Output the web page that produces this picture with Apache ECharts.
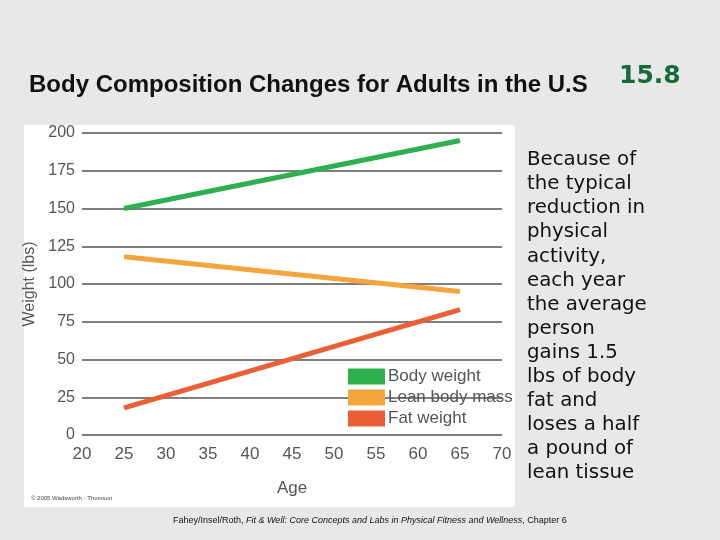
<!DOCTYPE html>
<html><head><meta charset="utf-8">
<script src="https://cdn.jsdelivr.net/npm/echarts@6/dist/echarts.min.js"></script>
<style>html,body{margin:0;padding:0;background:#e8e8e8;}#c{width:720px;height:540px;}</style>
</head><body><div id="c"></div>
<script>
const ages = [25, 65];
const bodyWeight = [150, 195];
const leanMass = [118, 95];
const fatWeight = [18, 83];
const xTicks = [20, 25, 30, 35, 40, 45, 50, 55, 60, 65, 70];
const sideText = ["Because of","the typical","reduction in","physical","activity,","each year","the average","person","gains 1.5","lbs of body","fat and","loses a half","a pound of","lean tissue"];

const chart = echarts.init(document.getElementById('c'));
const pair = (xs, ys) => xs.map((x, i) => [x, ys[i]]);
const lbl = {fontFamily:'Liberation Sans', fontSize:16, color:'#555'};
chart.setOption({
  backgroundColor:'#e8e8e8',
  animation:false,
  graphic:[
    {type:'rect', z:-10, shape:{x:24,y:125,width:491,height:382}, style:{fill:'#ffffff'}},
    {type:'text', left:29, top:73, style:{text:'Body Composition Changes for Adults in the U.S', font:'bold 24px "Liberation Sans"', fill:'#111'}},
    {type:'text', left:619, top:64, style:{text:'15.8', font:'bold 25px "DejaVu Sans"', fill:'#146b3a'}},
    {type:'text', left:527, top:148, style:{text:sideText.join('\n'), font:'19.8px "DejaVu Sans"', lineHeight:24.1, fill:'#111'}},
    {type:'text', left:31, top:495, style:{text:'© 2005 Wadsworth - Thomson', font:'6px "Liberation Sans"', fill:'#444'}},
    {type:'text', left:173, top:516, style:{
      text:'{n|Fahey/Insel/Roth, }{i|Fit & Well: Core Concepts and Labs in Physical Fitness and Wellness}{n|, Chapter 6}',
      rich:{n:{font:'9px "Liberation Sans"', fill:'#111'}, i:{font:'italic 9px "Liberation Sans"', fill:'#111'}}}}
  ],
  grid:{left:82, right:218, top:133, bottom:105},
  legend:{orient:'vertical', left:343, top:363, itemWidth:37, itemHeight:16, itemGap:4, icon:'rect',
    textStyle:{fontFamily:'Liberation Sans', fontSize:17, color:'#555', padding:[0,0,0,-2]},
    data:['Body weight','Lean body mass','Fat weight']},
  xAxis:{type:'value', min:20, max:70, interval:5, name:'Age', nameLocation:'middle', nameGap:45,
    nameTextStyle:{fontFamily:'Liberation Sans', fontSize:17, color:'#555'},
    axisLine:{show:false}, axisTick:{show:false}, splitLine:{show:false},
    axisLabel:Object.assign({margin:11}, lbl, {fontSize:17})},
  yAxis:{type:'value', min:0, max:200, interval:25, name:'Weight (lbs)', nameLocation:'middle', nameGap:40,
    nameTextStyle:{fontFamily:'Liberation Sans', fontSize:16, color:'#555'},
    axisLine:{show:false}, axisTick:{show:false},
    splitLine:{lineStyle:{color:'#555', width:1.5}},
    axisLabel:Object.assign({margin:7}, lbl)},
  series:[
    {name:'Body weight', type:'line', data:pair(ages, bodyWeight), symbol:'none', color:'#2fb050', lineStyle:{width:5}},
    {name:'Lean body mass', type:'line', data:pair(ages, leanMass), symbol:'none', color:'#f4a53e', lineStyle:{width:5}},
    {name:'Fat weight', type:'line', data:pair(ages, fatWeight), symbol:'none', color:'#ea5f36', lineStyle:{width:5}}
  ]
});
</script></body></html>
